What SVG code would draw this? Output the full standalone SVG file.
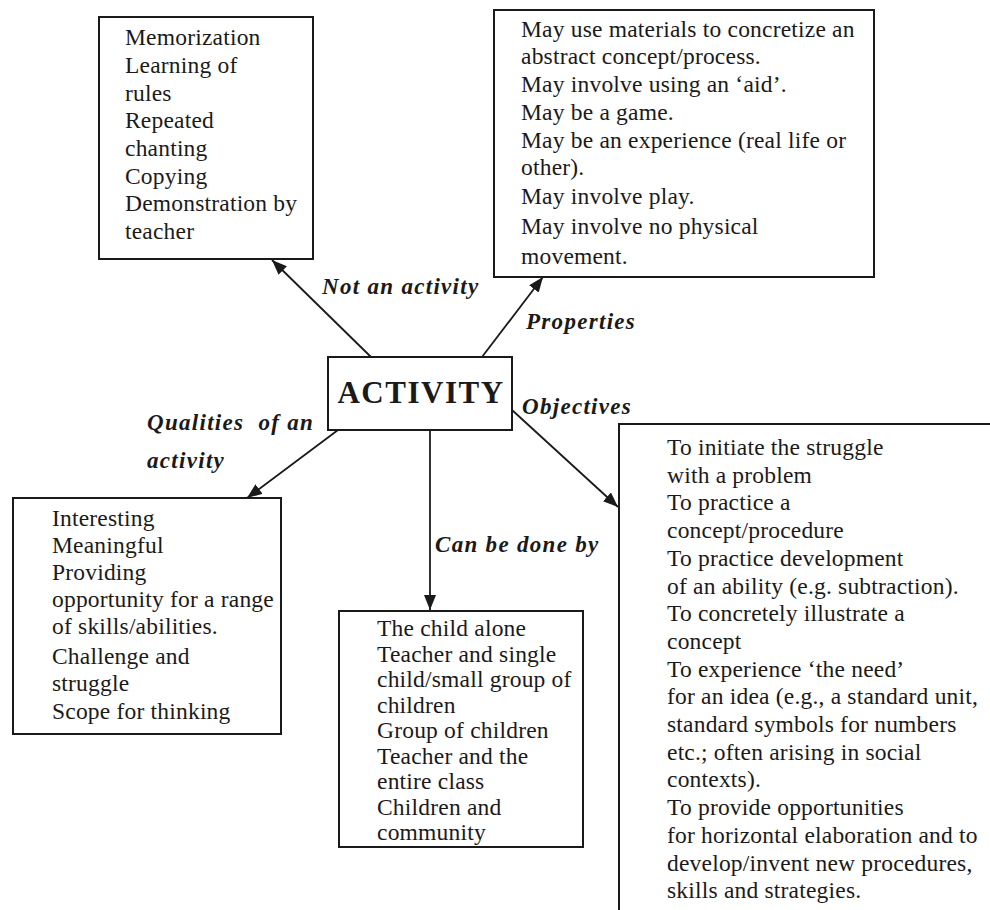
<svg xmlns="http://www.w3.org/2000/svg" width="990" height="910" viewBox="0 0 990 910">
<style>
.box{fill:#fff;stroke:#1a1a1a;stroke-width:2}
.t{font-family:"Liberation Serif","Times New Roman",serif;font-size:23.5px;letter-spacing:0.2px;fill:#1a1a1a}
.lbl{font-family:"Liberation Serif","Times New Roman",serif;font-size:23px;font-weight:bold;font-style:italic;letter-spacing:1.3px;fill:#1a1a1a;white-space:pre}
.main{font-family:"Liberation Serif","Times New Roman",serif;font-size:31px;font-weight:bold;letter-spacing:1.5px;fill:#1a1a1a}
.conn{stroke:#1a1a1a;stroke-width:1.8;fill:none}
</style>
<defs>
<marker id="arr" markerUnits="userSpaceOnUse" markerWidth="16" markerHeight="12" refX="15" refY="6" orient="auto">
<path d="M0,0 L15,6 L0,12 z" fill="#1a1a1a"/>
</marker>
</defs>
<rect width="990" height="910" fill="#fff"/>

<g id="connectors">
<line class="conn" x1="371" y1="357" x2="272" y2="260" marker-end="url(#arr)"/>
<line class="conn" x1="482" y1="357" x2="543" y2="277" marker-end="url(#arr)"/>
<line class="conn" x1="338" y1="430" x2="247" y2="498" marker-end="url(#arr)"/>
<line class="conn" x1="430" y1="430" x2="430" y2="610" marker-end="url(#arr)"/>
<line class="conn" x1="512" y1="410" x2="618" y2="507" marker-end="url(#arr)"/>
<text class="lbl" x="322" y="294">Not an activity</text>
<text class="lbl" x="526" y="329">Properties</text>
<text class="lbl" x="522" y="414">Objectives</text>
<text class="lbl" x="147" y="430">Qualities  of an</text>
<text class="lbl" x="147" y="468">activity</text>
<text class="lbl" x="435" y="552">Can be done by</text>
</g>

<g id="activity">
<rect class="box" x="328" y="357" width="184" height="73"/>
<text class="main" x="421" y="403" text-anchor="middle">ACTIVITY</text>
</g>

<g id="not-activity">
<rect class="box" x="99" y="17" width="214" height="242"/>
<text class="t" x="125" y="45">Memorization</text>
<text class="t" x="125" y="73">Learning of</text>
<text class="t" x="125" y="100.5">rules</text>
<text class="t" x="125" y="128">Repeated</text>
<text class="t" x="125" y="156">chanting</text>
<text class="t" x="125" y="183.5">Copying</text>
<text class="t" x="125" y="211">Demonstration by</text>
<text class="t" x="125" y="239">teacher</text>
</g>

<g id="properties">
<rect class="box" x="494" y="10" width="380" height="267"/>
<text class="t" x="521" y="37">May use materials to concretize an</text>
<text class="t" x="521" y="64">abstract concept/process.</text>
<text class="t" x="521" y="92">May involve using an ‘aid’.</text>
<text class="t" x="521" y="120">May be a game.</text>
<text class="t" x="521" y="148">May be an experience (real life or</text>
<text class="t" x="521" y="175">other).</text>
<text class="t" x="521" y="204">May involve play.</text>
<text class="t" x="521" y="234">May involve no physical</text>
<text class="t" x="521" y="264">movement.</text>
</g>

<g id="qualities">
<rect class="box" x="13" y="498" width="268" height="236"/>
<text class="t" x="52" y="526">Interesting</text>
<text class="t" x="52" y="553">Meaningful</text>
<text class="t" x="52" y="580">Providing</text>
<text class="t" x="52" y="607">opportunity for a range</text>
<text class="t" x="52" y="634">of skills/abilities.</text>
<text class="t" x="52" y="664">Challenge and</text>
<text class="t" x="52" y="691">struggle</text>
<text class="t" x="52" y="719">Scope for thinking</text>
</g>

<g id="done-by">
<rect class="box" x="339" y="611" width="244" height="236"/>
<text class="t" x="377" y="636">The child alone</text>
<text class="t" x="377" y="661.5">Teacher and single</text>
<text class="t" x="377" y="687">child/small group of</text>
<text class="t" x="377" y="712.5">children</text>
<text class="t" x="377" y="738">Group of children</text>
<text class="t" x="377" y="763.5">Teacher and the</text>
<text class="t" x="377" y="789">entire class</text>
<text class="t" x="377" y="814.5">Children and</text>
<text class="t" x="377" y="840">community</text>
</g>

<g id="objectives">
<path class="box" d="M995 424 H619 V915" style="fill:none"/>
<text class="t" x="667" y="455">To initiate the struggle</text>
<text class="t" x="667" y="482.7">with a problem</text>
<text class="t" x="667" y="510.4">To practice a</text>
<text class="t" x="667" y="538.1">concept/procedure</text>
<text class="t" x="667" y="565.8">To practice development</text>
<text class="t" x="667" y="593.5">of an ability (e.g. subtraction).</text>
<text class="t" x="667" y="621.2">To concretely illustrate a</text>
<text class="t" x="667" y="648.9">concept</text>
<text class="t" x="667" y="676.6">To experience ‘the need’</text>
<text class="t" x="667" y="704.3">for an idea (e.g., a standard unit,</text>
<text class="t" x="667" y="732">standard symbols for numbers</text>
<text class="t" x="667" y="759.7">etc.; often arising in social</text>
<text class="t" x="667" y="787.4">contexts).</text>
<text class="t" x="667" y="815.1">To provide opportunities</text>
<text class="t" x="667" y="842.8">for horizontal elaboration and to</text>
<text class="t" x="667" y="870.5">develop/invent new procedures,</text>
<text class="t" x="667" y="898.2">skills and strategies.</text>
</g>
</svg>
